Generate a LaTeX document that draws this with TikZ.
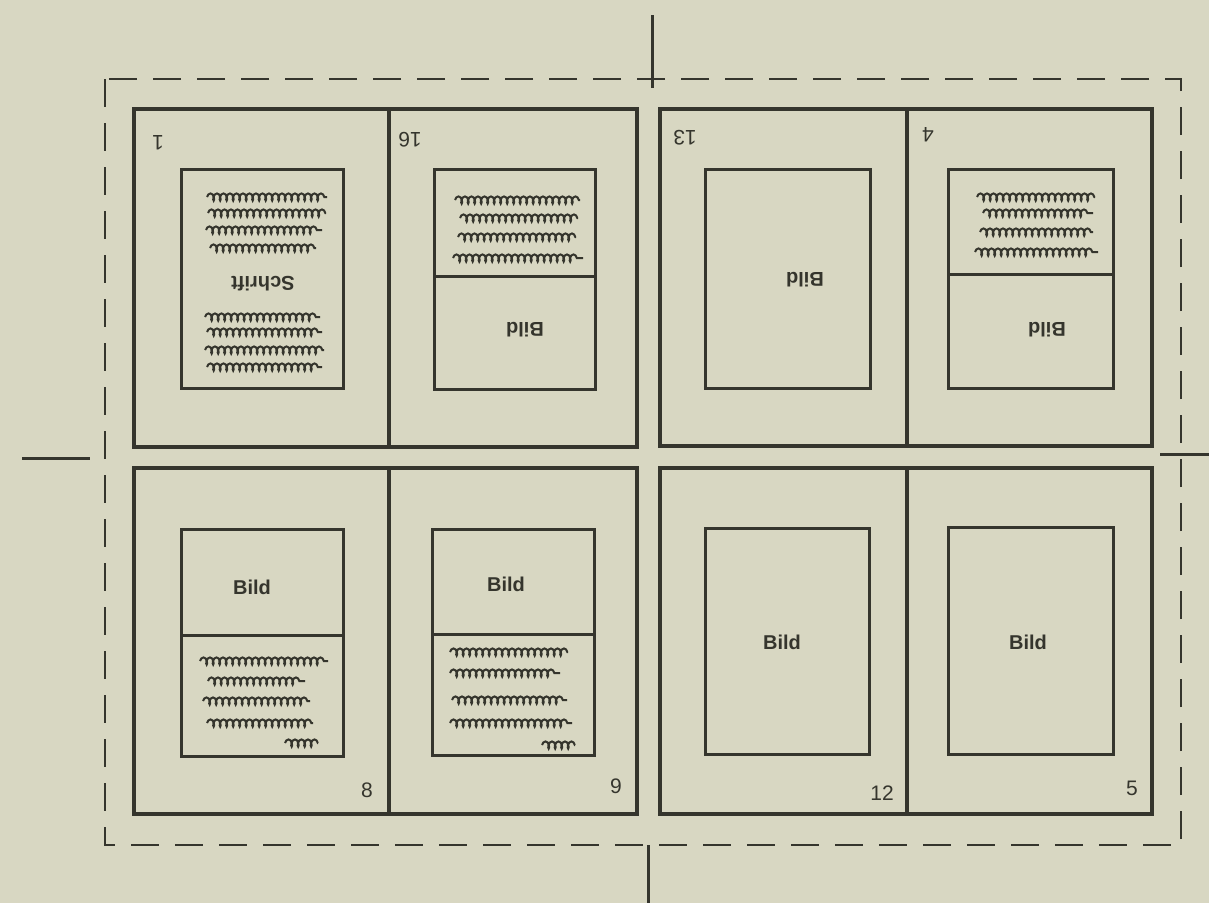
\documentclass[tikz,border=0pt]{standalone}
\usepackage{fontspec}
\setmainfont{Liberation Sans}
\usetikzlibrary{decorations.pathmorphing}
\definecolor{paper}{HTML}{D8D7C2}
\definecolor{ink}{HTML}{35352D}
\tikzset{
  panel/.style={draw=ink, line width=3.2pt},
  inner/.style={draw=ink, line width=3pt},
  cutline/.style={draw=ink, line width=2.8pt, dash pattern=on 28pt off 16pt},
  cropmark/.style={draw=ink, line width=3pt},
  scrib/.style={draw=ink, line width=2pt, decorate,
    decoration={coil, amplitude=3.6pt, segment length=6.5pt, aspect=0.5}},
  bild/.style={text=ink, font=\fontsize{20}{22}\selectfont\bfseries, inner sep=0pt},
  pnum/.style={text=ink, font=\fontsize{21}{23}\selectfont, inner sep=0pt},
}
\begin{document}
\begin{tikzpicture}[x=1pt,y=-1pt]
\fill[paper] (0,0) rectangle (1209,903);
\useasboundingbox (0,0) rectangle (1209,903);
% cut frame and crop marks
\draw[cutline] (105,79) rectangle (1181,845);
\coordinate (mt1) at (652,15); \coordinate (mt2) at (652,88);
\coordinate (mb1) at (648,845); \coordinate (mb2) at (648,903);
\coordinate (ml1) at (22,458); \coordinate (ml2) at (90,458);
\coordinate (mr1) at (1160,454); \coordinate (mr2) at (1209,454);
\draw[cropmark] (mt1) -- (mt2);
\draw[cropmark] (mb1) -- (mb2);
\draw[cropmark] (ml1) -- (ml2);
\draw[cropmark] (mr1) -- (mr2);
% spreads
\draw[panel] (134,109) rectangle (637,447);
\draw[panel] (389,109) -- (389,447);
\draw[panel] (660,109) rectangle (1152,446);
\draw[panel] (907,109) -- (907,446);
\draw[panel] (134,468) rectangle (637,814);
\draw[panel] (389,468) -- (389,814);
\draw[panel] (660,468) rectangle (1152,814);
\draw[panel] (907,468) -- (907,814);
% inner type areas
\draw[inner] (181,169) rectangle (343,388);
\draw[inner] (434,169) rectangle (595,389);
\draw[inner] (434,276) -- (595,276);
\draw[inner] (705,169) rectangle (870,388);
\draw[inner] (948,169) rectangle (1113,388);
\draw[inner] (948,274) -- (1113,274);
\draw[inner] (181,529) rectangle (343,756);
\draw[inner] (181,635) -- (343,635);
\draw[inner] (432,529) rectangle (594,755);
\draw[inner] (432,634) -- (594,634);
\draw[inner] (705,528) rectangle (869,754);
\draw[inner] (948,527) rectangle (1113,754);
% page numbers
\node[pnum, rotate=180] (n1) at (158,143) {1};
\node[pnum, rotate=180] (n16) at (410,140) {16};
\node[pnum, rotate=180] (n13) at (685,138) {13};
\node[pnum, rotate=180] (n4) at (928,135) {4};
\node[pnum] (n8) at (367,790) {8};
\node[pnum] (n9) at (616,786) {9};
\node[pnum] (n12) at (882,793) {12};
\node[pnum] (n5) at (1132,788) {5};
% labels
\node[bild, rotate=180] (s1) at (263,284) {Schrift};
\node[bild, rotate=180] (b16) at (525,330) {Bild};
\node[bild, rotate=180] (b13) at (805,280) {Bild};
\node[bild, rotate=180] (b4) at (1047,330) {Bild};
\node[bild] (b8) at (252,587) {Bild};
\node[bild] (b9) at (506,584) {Bild};
\node[bild] (b12) at (782,642) {Bild};
\node[bild] (b5) at (1028,642) {Bild};
% scribbled text lines
\foreach \y/\a/\b in {197/207/327, 213/208/326, 230/206/322, 248/210/316,
                      317/205/320, 332/207/322, 350/205/324, 367/207/322}
  \draw[scrib] (\a,\y) -- (\b,\y);
\foreach \y/\a/\b in {200/455/580, 218/460/578, 237/458/576, 258/453/583}
  \draw[scrib] (\a,\y) -- (\b,\y);
\foreach \y/\a/\b in {197/977/1095, 213/983/1093, 232/980/1093, 252/975/1098}
  \draw[scrib] (\a,\y) -- (\b,\y);
\foreach \y/\a/\b in {661/200/328, 681/208/305, 701/203/310, 723/207/313}
  \draw[scrib] (\a,\y) -- (\b,\y);
\draw[scrib] (285,743) -- (318,743);
\foreach \y/\a/\b in {652/450/568, 673/450/560, 700/452/567, 723/450/572}
  \draw[scrib] (\a,\y) -- (\b,\y);
\draw[scrib] (542,745) -- (575,745);
\end{tikzpicture}
\end{document}
